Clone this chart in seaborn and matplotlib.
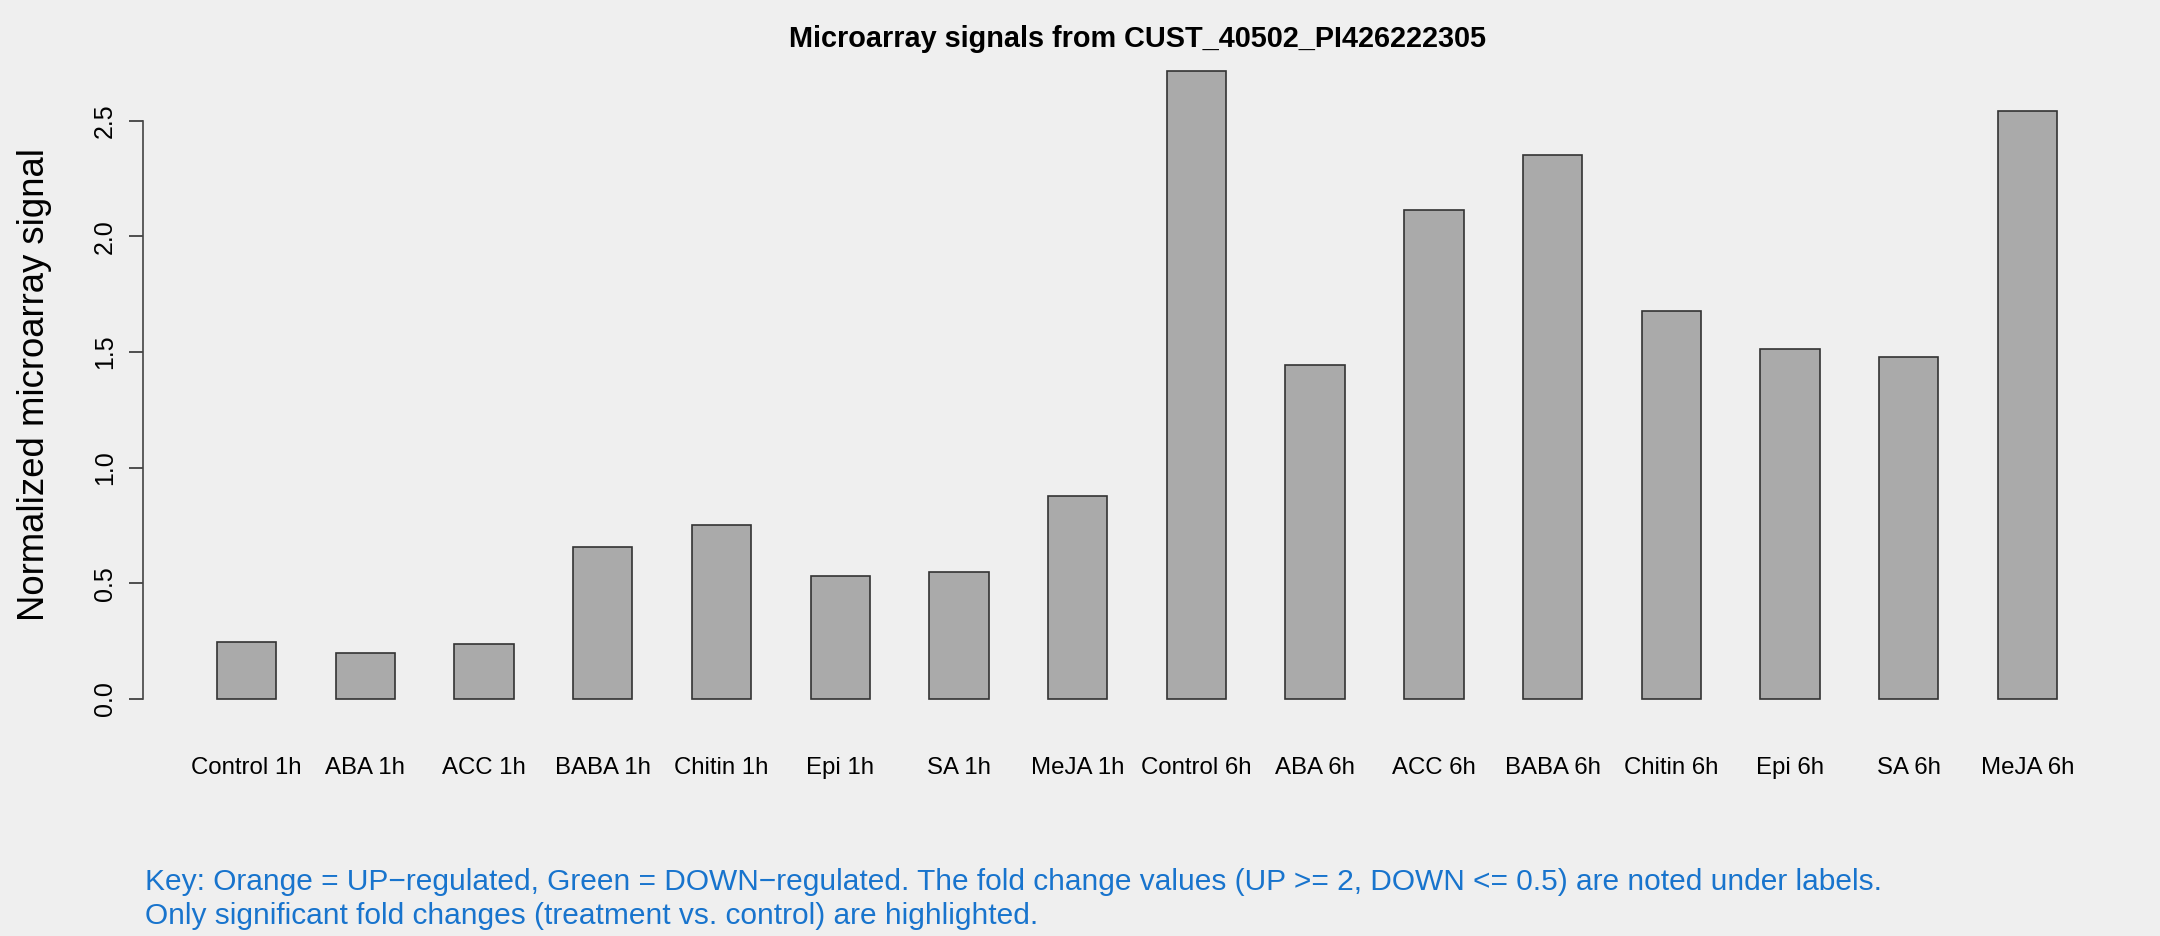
import matplotlib
matplotlib.use("Agg")
import matplotlib.pyplot as plt
import seaborn as sns
import pandas as pd

# values
labels = ["Control 1h", "ABA 1h", "ACC 1h", "BABA 1h", "Chitin 1h", "Epi 1h", "SA 1h", "MeJA 1h",
          "Control 6h", "ABA 6h", "ACC 6h", "BABA 6h", "Chitin 6h", "Epi 6h", "SA 6h", "MeJA 6h"]
signal = [0.245, 0.197, 0.239, 0.656, 0.752, 0.531, 0.549, 0.877,
          2.715, 1.444, 2.112, 2.351, 1.677, 1.515, 1.480, 2.542]
yticks = [0.0, 0.5, 1.0, 1.5, 2.0, 2.5]

df = pd.DataFrame({"sample": labels, "signal": signal})

sns.set_style("white")
plt.rcParams["font.family"] = ["Liberation Sans", "DejaVu Sans"]
bg = "#EFEFEF"

fig = plt.figure(figsize=(21.6, 9.36), dpi=100, facecolor=bg)
ax = fig.add_axes([0.0663, 0.2264, 0.9202, 0.7246])
ax.set_facecolor(bg)

sns.barplot(data=df, x="sample", y="signal", color="#AAAAAA", edgecolor="#333333",
            linewidth=1.2, width=0.5, saturation=1, ax=ax)

# R-like limits (4% padding)
ax.set_xlim(-0.87, 15.87)
ax.set_ylim(-0.1086, 2.8236)
ax.set_yticks(yticks)
ax.set_yticklabels([f"{v:.1f}" for v in yticks])

for s in ["top", "right", "bottom"]:
    ax.spines[s].set_visible(False)
ax.spines["left"].set_bounds(0, 2.5)
ax.spines["left"].set_color("#444444")
ax.spines["left"].set_linewidth(1.2)

ax.tick_params(axis="y", length=10, width=1.2, color="#333333", pad=9,
               labelsize=18, labelrotation=90, left=True, labelcolor="black")
for t in ax.get_yticklabels():
    t.set_va("center")
ax.tick_params(axis="x", length=0, pad=24, labelsize=17.3, labelcolor="black")

ax.set_xlabel("")
ax.set_ylabel("Normalized microarray signal", fontsize=26.3, va="center", color="black")
ax.yaxis.set_label_coords(-0.0545, 0.5)

ax.set_title("Microarray signals from CUST_40502_PI426222305", fontsize=20.8,
             fontweight="bold", color="black", pad=-1)

key_color = "#1874CD"
fig.text(0.0671, 0.0577,
         "Key: Orange = UP\u2212regulated, Green = DOWN\u2212regulated. The fold change values "
         "(UP >= 2, DOWN <= 0.5) are noted under labels.",
         color=key_color, fontsize=21.5, ha="left", va="center")
fig.text(0.0671, 0.0214,
         "Only significant fold changes (treatment vs. control) are highlighted.",
         color=key_color, fontsize=21.5, ha="left", va="center")

fig.savefig("out.png", dpi=100, facecolor=bg)
